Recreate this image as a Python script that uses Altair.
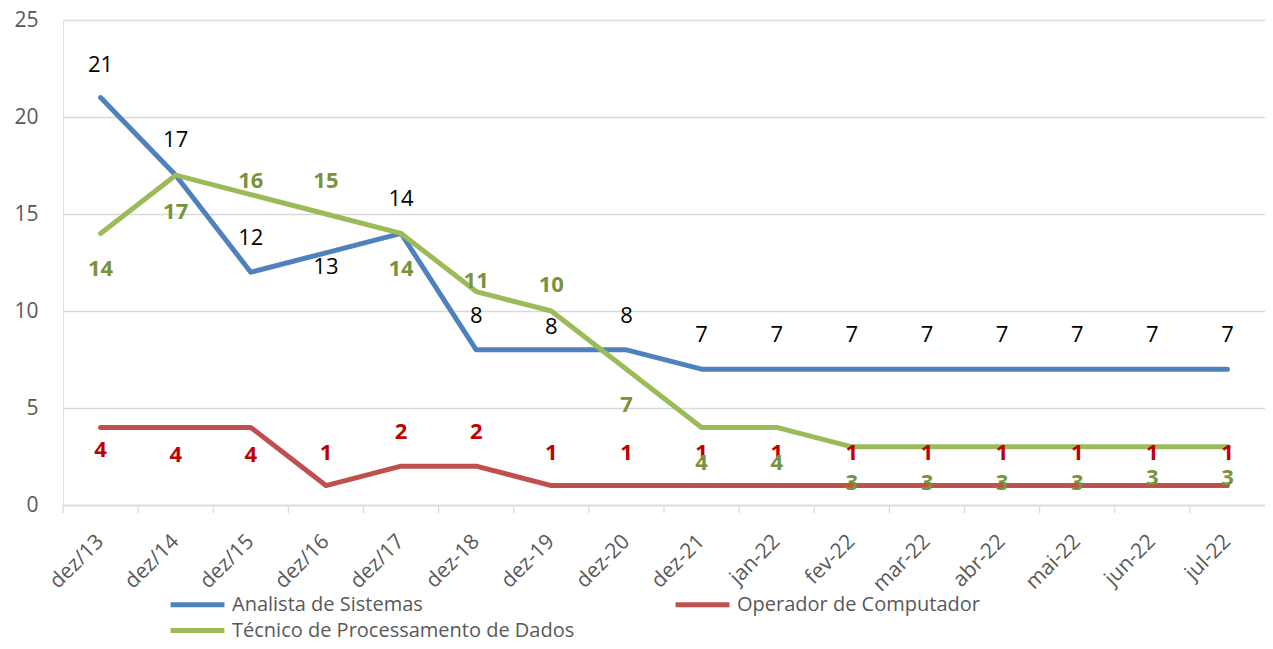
import altair as alt
import pandas as pd

categories = ["dez/13", "dez/14", "dez/15", "dez/16", "dez/17", "dez-18", "dez-19", "dez-20",
              "dez-21", "jan-22", "fev-22", "mar-22", "abr-22", "mai-22", "jun-22", "jul-22"]
series_names = ["Analista de Sistemas", "Operador de Computador", "Técnico de Processamento de Dados"]
analista = [21, 17, 12, 13, 14, 8, 8, 8, 7, 7, 7, 7, 7, 7, 7, 7]
operador = [4, 4, 4, 1, 2, 2, 1, 1, 1, 1, 1, 1, 1, 1, 1, 1]
tecnico = [14, 17, 16, 15, 14, 11, 10, 7, 4, 4, 3, 3, 3, 3, 3, 3]

# label placement offsets (pixels, relative to point; negative = above)
analista_dy = [-33, -35, -34, 14, -34, -34, -23, -34, -34, -34, -34, -34, -34, -34, -34, -34]
operador_dy = [23, 28, 28, -33, -34, -34, -33, -33, -33, -33, -33, -33, -33, -33, -33, -33]
tecnico_dy = [36, 37, -14, -33, 36, -11, -26, 36, 36, 36, 36, 36, 36, 36, 31, 31]

line_colors = ["#4F81BD", "#C0504D", "#9BBB59"]
label_colors = ["#000000", "#C00000", "#77933C"]
label_weights = ["normal", "bold", "bold"]

rows = []
for name, vals, dys in zip(series_names, [analista, operador, tecnico],
                           [analista_dy, operador_dy, tecnico_dy]):
    for i, (c, v, d) in enumerate(zip(categories, vals, dys)):
        rows.append({"cat": c, "series": name, "value": v, "dy": d, "order": i})
df = pd.DataFrame(rows)

FONT = "Open Sans"
W, H = 1202, 485
PX_PER_UNIT = H / 25.0

x_enc = alt.X("cat:N", sort=categories,
              scale=alt.Scale(type="band", paddingInner=0, paddingOuter=0),
              axis=alt.Axis(title=None, labelAngle=-45, labelFont=FONT, labelFontSize=21,
                            labelColor="#595959", ticks=False, domainColor="#d9d9d9",
                            domainWidth=1.3, labelPadding=33, grid=False))
y_enc = alt.Y("value:Q", scale=alt.Scale(domain=[0, 25], nice=False),
              axis=alt.Axis(title=None, values=[0, 5, 10, 15, 20, 25], labelFont=FONT,
                            labelFontSize=21, labelColor="#595959", ticks=False,
                            domain=False, gridColor="#d9d9d9", gridWidth=1.3,
                            labelPadding=25))

base = alt.Chart(df)

lines = base.mark_line(strokeWidth=5, strokeCap="round", strokeJoin="round").encode(
    x=x_enc,
    y=y_enc,
    color=alt.Color("series:N", sort=series_names,
                    scale=alt.Scale(domain=series_names, range=line_colors),
                    legend=alt.Legend(title=None, orient="none", legendX=121, legendY=571,
                                      direction="horizontal",
                                      columns=2, columnPadding=90, rowPadding=2,
                                      symbolType="M-2.45,0H2.45", symbolSize=484,
                                      symbolStrokeWidth=5, labelFont=FONT, labelFontSize=20,
                                      labelColor="#595959", labelOffset=21, labelLimit=600)),
    order=alt.Order("order:Q"),
)

tick_rules = base.transform_filter(alt.datum.series == series_names[0]).mark_rule(
    color="#d9d9d9", strokeWidth=1.3
).encode(
    x=alt.X("cat:N", sort=categories, bandPosition=0),
    y=alt.value(H),
    y2=alt.value(H + 8),
)

text_layers = []
for name, col, wt in zip(series_names, label_colors, label_weights):
    t = base.transform_filter(alt.datum.series == name).transform_calculate(
        label_y=f"datum.value - datum.dy / {PX_PER_UNIT}"
    ).mark_text(
        font=FONT, fontSize=22, fontWeight=wt, color=col, baseline="middle", align="center"
    ).encode(
        x=alt.X("cat:N", sort=categories),
        y=alt.Y("label_y:Q"),
        text=alt.Text("value:Q"),
    )
    text_layers.append(t)

chart = alt.layer(tick_rules, lines, *text_layers).properties(
    width=W, height=H,
    padding={"left": 55, "top": 12, "right": 0, "bottom": 136},
    autosize=alt.AutoSizeParams(type="none"),
).configure_view(stroke=None).configure(background="white")

chart.save("out.html", embed_options={"renderer": "svg", "actions": False})
